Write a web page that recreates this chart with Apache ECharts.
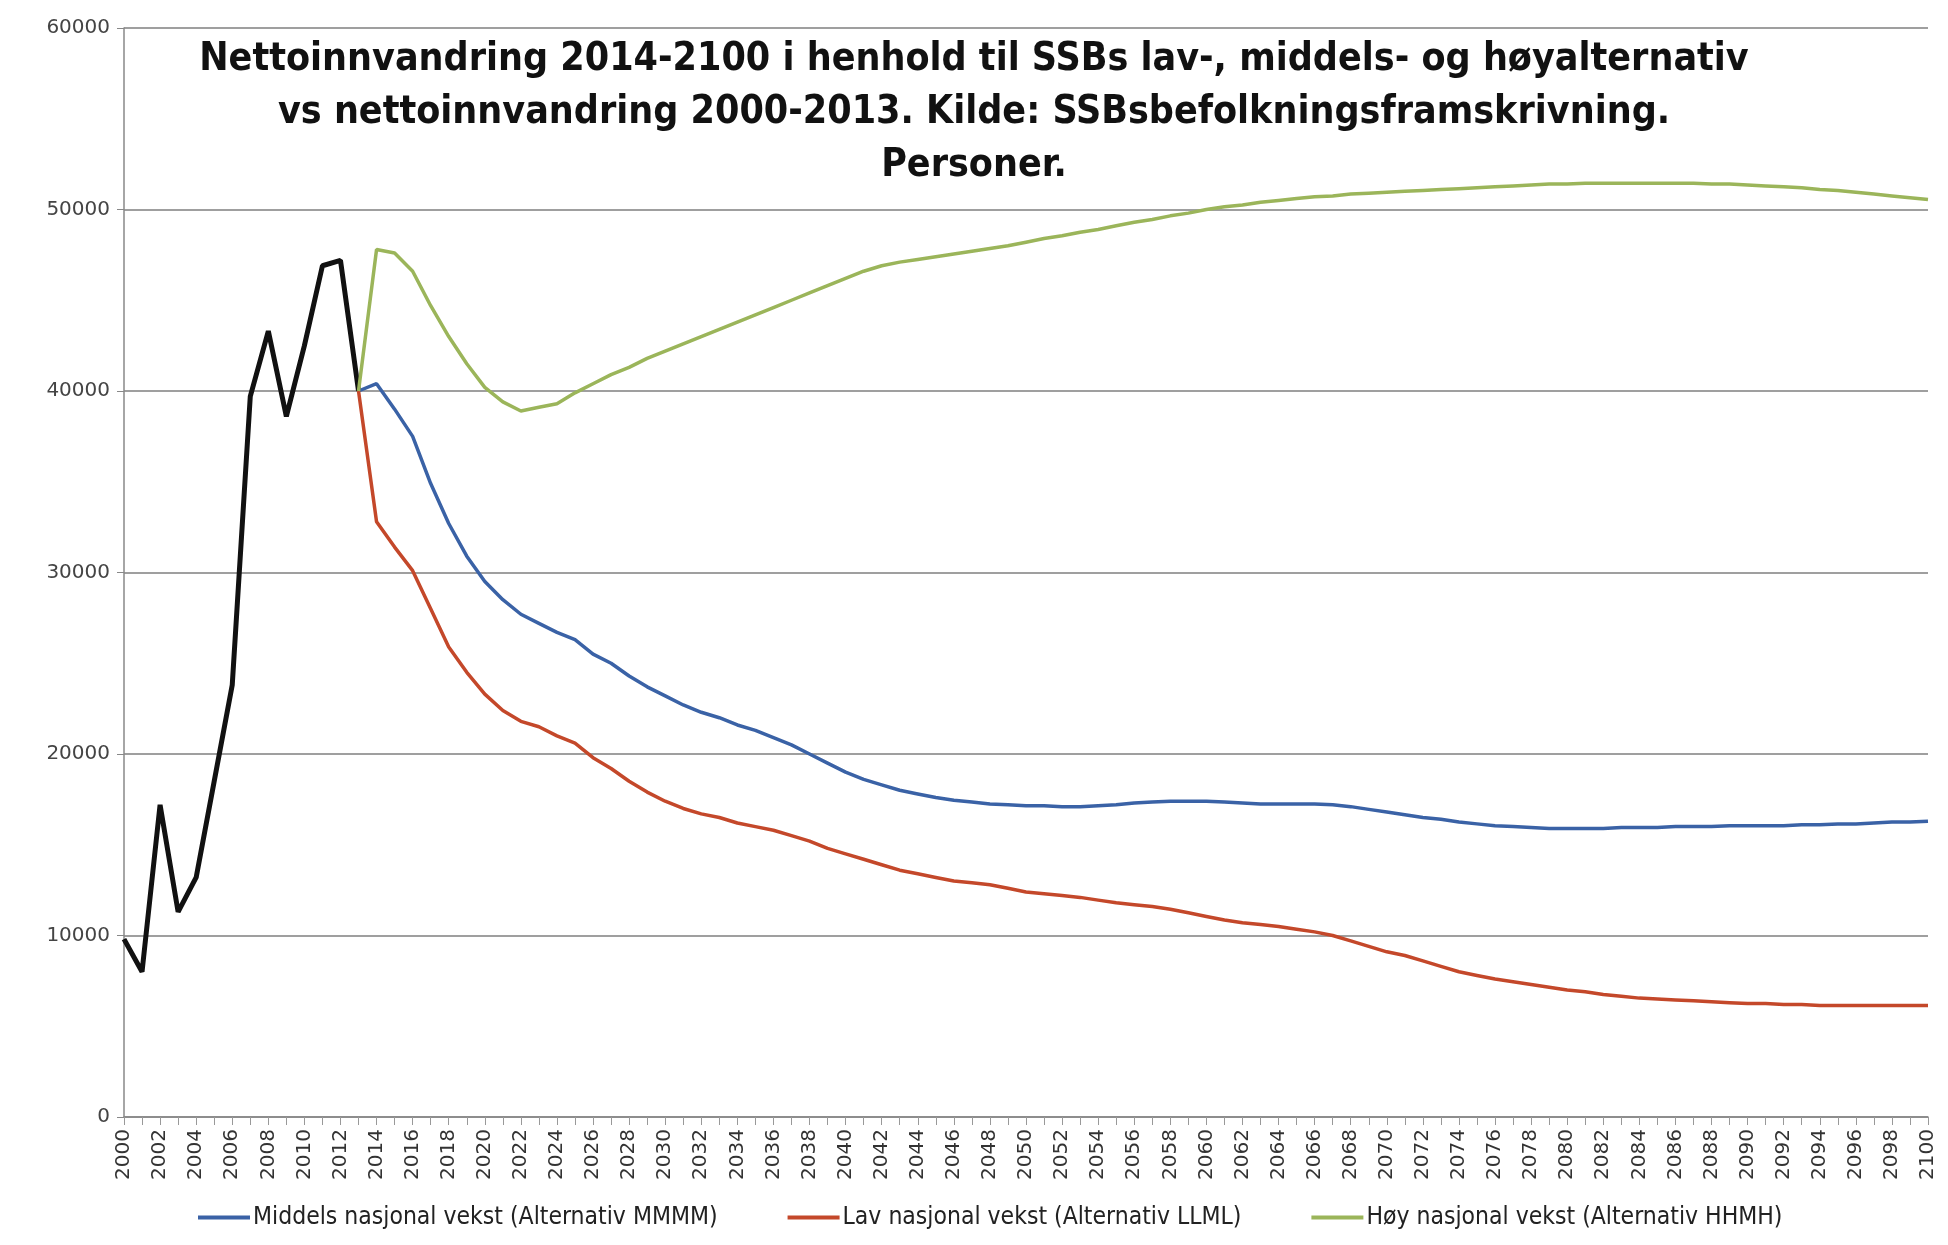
<!DOCTYPE html>
<html>
<head>
<meta charset="utf-8">
<title>Nettoinnvandring 2000-2100</title>
<script src="https://cdn.jsdelivr.net/npm/echarts@6/dist/echarts.min.js"></script>
<style>
  html, body { margin: 0; padding: 0; background: #fff; }
  #chart { width: 1948px; height: 1245px; }
</style>
</head>
<body>
<div id="chart"></div>
<script>
// x-akse: hvert år 2000-2100
const years = [];
for (let y = 2000; y <= 2100; y++) years.push(String(y));

// historisk nettoinnvandring 2000-2013
const historisk = [9800, 8000, 17200, 11300, 13200, 18500, 23800, 39700, 43300, 38600, 42500, 46900, 47200, 40000];

// framskrivinger 2013-2100 (starter i samme punkt som 2013)
const middels = [
  40000, 40400, 39000, 37500, 34900, 32700, 30900, 29500, 28500, 27700,
  27200, 26700, 26300, 25500, 25000, 24300, 23700, 23200, 22700, 22300,
  22000, 21600, 21300, 20900, 20500, 20000, 19500, 19000, 18600, 18300,
  18000, 17800, 17600, 17450, 17350, 17250, 17200, 17150, 17150, 17100,
  17100, 17150, 17200, 17300, 17350, 17400, 17400, 17400, 17350, 17300,
  17250, 17250, 17250, 17250, 17200, 17100, 16950, 16800, 16650, 16500,
  16400, 16250, 16150, 16050, 16000, 15950, 15900, 15900, 15900, 15900,
  15950, 15950, 15950, 16000, 16000, 16000, 16050, 16050, 16050, 16050,
  16100, 16100, 16150, 16150, 16200, 16250, 16250, 16300
];
const lav = [
  40000, 32800, 31400, 30100, 28000, 25900, 24500, 23300, 22400, 21800,
  21500, 21000, 20600, 19800, 19200, 18500, 17900, 17400, 17000, 16700,
  16500, 16200, 16000, 15800, 15500, 15200, 14800, 14500, 14200, 13900,
  13600, 13400, 13200, 13000, 12900, 12800, 12600, 12400, 12300, 12200,
  12100, 11950, 11800, 11700, 11600, 11450, 11250, 11050, 10850, 10700,
  10600, 10500, 10350, 10200, 10000, 9700, 9400, 9100, 8900, 8600,
  8300, 8000, 7800, 7600, 7450, 7300, 7150, 7000, 6900, 6750,
  6650, 6550, 6500, 6450, 6400, 6350, 6300, 6250, 6250, 6200,
  6200, 6150, 6150, 6150, 6150, 6150, 6150, 6150
];
const hoy = [
  40000, 47800, 47600, 46600, 44700, 43000, 41500, 40200, 39400, 38900,
  39100, 39300, 39900, 40400, 40900, 41300, 41800, 42200, 42600, 43000,
  43400, 43800, 44200, 44600, 45000, 45400, 45800, 46200, 46600, 46900,
  47100, 47250, 47400, 47550, 47700, 47850, 48000, 48200, 48400, 48550,
  48750, 48900, 49100, 49300, 49450, 49650, 49800, 50000, 50150, 50250,
  50400, 50500, 50600, 50700, 50750, 50850, 50900, 50950, 51000, 51050,
  51100, 51150, 51200, 51250, 51300, 51350, 51400, 51400, 51450, 51450,
  51450, 51450, 51450, 51450, 51450, 51400, 51400, 51350, 51300, 51250,
  51200, 51100, 51050, 50950, 50850, 50750, 50650, 50550
];

const seriesNames = [
  "Middels nasjonal vekst (Alternativ MMMM)",
  "Lav nasjonal vekst (Alternativ LLML)",
  "Høy nasjonal vekst (Alternativ HHMH)"
];

// fyll ut med null slik at alle serier har ett punkt per år
const startIdx = years.indexOf("2013");
function padHist(arr) {
  return arr.concat(new Array(years.length - arr.length).fill(null));
}
function padProj(arr) {
  return new Array(startIdx).fill(null).concat(arr);
}

const narrow = "'Liberation Sans Narrow', 'DejaVu Sans Condensed', sans-serif";

const chart = echarts.init(document.getElementById("chart"));

const lineSeries = (name, data, color, width) => ({
  name: name,
  type: "line",
  data: data,
  showSymbol: false,
  symbol: "none",
  connectNulls: false,
  lineStyle: { color: color, width: width },
  itemStyle: { color: color },
  emphasis: { disabled: true }
});

chart.setOption({
  animation: false,
  backgroundColor: "#ffffff",
  title: {
    text: "Nettoinnvandring 2014-2100 i henhold til SSBs lav-, middels- og høyalternativ\nvs nettoinnvandring 2000-2013. Kilde: SSBsbefolkningsframskrivning.\nPersoner.",
    left: "center",
    top: 28,
    textStyle: {
      fontFamily: narrow,
      fontSize: 39,
      fontWeight: "bold",
      lineHeight: 53,
      align: "center",
      color: "#111"
    }
  },
  legend: {
    data: seriesNames,
    bottom: 10,
    left: 193,
    itemGap: 70,
    itemWidth: 52,
    itemHeight: 4,
    icon: "rect",
    textStyle: {
      fontFamily: narrow,
      fontSize: 24.5,
      color: "#222",
      padding: [0, 0, 0, -2]
    }
  },
  grid: { left: 124, right: 20, top: 28, bottom: 128 },
  xAxis: {
    type: "category",
    data: years,
    boundaryGap: false,
    axisLine: { lineStyle: { color: "#888", width: 1.5 } },
    axisTick: { interval: 0, length: 8, lineStyle: { color: "#999" } },
    axisLabel: {
      interval: 1,
      rotate: 90,
      margin: 12,
      fontFamily: "DejaVu Sans",
      fontSize: 20,
      color: "#333"
    },
    splitLine: { show: false }
  },
  yAxis: {
    type: "value",
    min: 0,
    max: 60000,
    interval: 10000,
    axisLine: { show: true, lineStyle: { color: "#888", width: 1.5 } },
    axisTick: { show: true, length: 7, lineStyle: { color: "#888" } },
    axisLabel: {
      margin: 14,
      fontFamily: "DejaVu Sans",
      fontSize: 20,
      color: "#444",
      formatter: (v) => String(v)
    },
    splitLine: { lineStyle: { color: "#7f7f7f", width: 1.5 } }
  },
  series: [
    lineSeries("Nettoinnvandring 2000-2013", padHist(historisk), "#111111", 5),
    lineSeries(seriesNames[0], padProj(middels), "#3a62a6", 3.5),
    lineSeries(seriesNames[1], padProj(lav), "#c4482a", 3.5),
    lineSeries(seriesNames[2], padProj(hoy), "#9bb55a", 3.5)
  ]
});
</script>
</body>
</html>
